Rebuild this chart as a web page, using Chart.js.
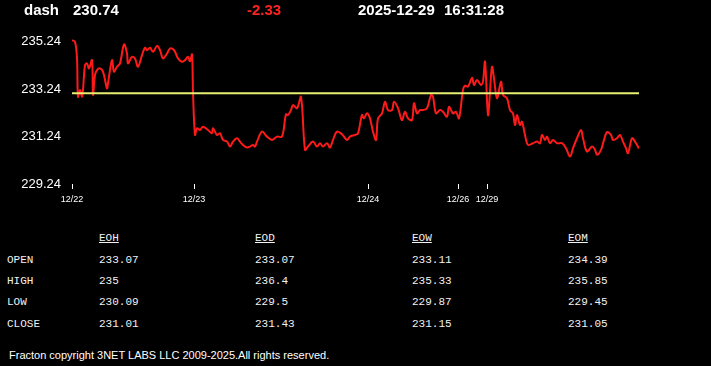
<!DOCTYPE html>
<html>
<head>
<meta charset="utf-8">
<script src="https://cdn.jsdelivr.net/npm/chart.js@4.4.0/dist/chart.umd.min.js"></script>
<style>
  html, body { margin: 0; padding: 0; background: #000; }
  body { width: 711px; height: 366px; position: relative; overflow: hidden; font-family: "Liberation Sans", Arial, sans-serif; color: #fff; }
  #wrap { position: absolute; left: 0; top: 0; width: 711px; height: 214px; }
  .hdr { position: absolute; top: 1px; font-weight: bold; font-size: 15px; line-height: 18px; white-space: pre; }
  .cell { position: absolute; font-family: "Liberation Mono", "DejaVu Sans Mono", monospace; font-size: 11px; line-height: 13px; color: #f2f2f2; white-space: pre; }
  .colhead { text-decoration: underline; }
  #footer { position: absolute; left: 9px; top: 348px; font-size: 11px; line-height: 14px; color: #fff; white-space: pre; }
</style>
</head>
<body>
<div id="wrap"><canvas id="chart" width="711" height="214"></canvas></div>
<div class="hdr" style="left:24px">dash</div>
<div class="hdr" id="last" style="left:73px"></div>
<div class="hdr" id="chg" style="left:247px;color:#ff2222"></div>
<div class="hdr" style="left:358px">2025-12-29</div>
<div class="hdr" style="left:444px">16:31:28</div>
<div id="table"></div>
<div id="footer">Fracton copyright 3NET LABS LLC 2009-2025.All rights reserved.</div>
<script>
// header values
const symbol = "dash";
const lastPrice = 230.74;
const change = -2.33;
const openPrice = 233.07;

// intraday series: bar index and price
const barIndex = [
  0, 3, 5, 6, 8, 10, 11, 13, 15, 17, 20, 21, 23, 25, 28, 31, 35, 36, 40, 42,
  45, 48, 52, 55, 56, 60, 63, 66, 70, 73, 75, 78, 81, 85, 88, 91, 95, 98, 101, 103,
  106, 110, 113, 116, 118, 120, 121, 123, 125, 128, 131, 136, 140, 141, 145, 148, 151, 155, 158, 161,
  165, 168, 171, 175, 178, 181, 183, 185, 190, 195, 200, 205, 210, 214, 216, 219, 221, 225, 229, 233,
  236, 241, 245, 248, 251, 255, 258, 261, 265, 270, 275, 278, 283, 286, 290, 292, 295, 298, 301, 304,
  306, 310, 313, 316, 320, 322, 326, 330, 333, 336, 340, 342, 345, 348, 351, 355, 359, 361, 364, 368,
  371, 375, 377, 381, 384, 387, 391, 393, 396, 400, 402, 405, 409, 411, 413, 416, 418, 420, 422, 425,
  429, 431, 435, 438, 441, 443, 445, 448, 450, 453, 456, 461, 465, 468, 470, 473, 475, 478, 481, 485,
  490, 494, 498, 501, 505, 509, 511, 515, 520, 523, 525, 529, 532, 535, 539, 541, 545, 548, 551, 554,
  556, 560, 563, 567
];
const prices = [
  235.31, 235.24, 234.54, 232.92, 233.21, 232.92, 233.21, 234.26, 234.33, 234.12, 234.47, 233.00, 233.84, 234.05, 234.12, 233.98, 233.28, 233.49, 234.47, 233.98,
  234.19, 234.33, 235.13, 234.75, 234.33, 234.61, 234.54, 234.19, 234.68, 234.99, 234.89, 234.99, 234.82, 235.07, 234.89, 234.54, 234.75, 234.96, 234.93, 234.82,
  234.54, 234.40, 234.47, 234.61, 234.42, 234.71, 233.13, 231.31, 231.59, 231.52, 231.66, 231.52, 231.38, 231.59, 231.31, 231.38, 231.10, 231.03, 230.82, 231.03,
  231.17, 231.03, 230.89, 230.78, 230.82, 230.89, 230.82, 231.03, 231.45, 231.24, 231.10, 231.24, 231.24, 232.18, 232.15, 232.36, 232.57, 232.44, 232.92, 230.68,
  230.82, 231.03, 230.82, 230.96, 230.82, 230.96, 230.78, 231.10, 231.45, 231.34, 231.10, 231.24, 231.31, 231.38, 232.15, 232.01, 232.23, 232.01, 231.45, 231.10,
  232.01, 232.22, 232.71, 232.36, 232.36, 232.71, 232.44, 231.94, 232.29, 232.01, 231.94, 232.65, 232.22, 232.36, 232.36, 232.44, 233.00, 232.92, 232.22, 232.36,
  232.29, 232.08, 232.50, 232.22, 232.29, 232.01, 233.21, 233.39, 233.35, 233.72, 233.42, 233.63, 233.42, 233.56, 234.40, 232.15, 233.13, 234.19, 233.70, 232.86,
  233.56, 233.00, 232.86, 232.36, 232.22, 231.73, 232.15, 231.73, 231.87, 231.31, 230.89, 230.96, 231.03, 230.96, 231.31, 231.10, 231.24, 230.96, 231.10, 230.96,
  230.96, 230.75, 230.40, 230.75, 231.17, 231.52, 231.17, 230.61, 230.82, 230.68, 230.47, 230.68, 231.10, 231.43, 231.31, 231.10, 231.17, 231.31, 231.03, 230.75,
  230.54, 231.17, 231.03, 230.74
];

// axis ticks
const dayLabels = ["12/22", "12/23", "12/24", "12/26", "12/29"];
const dayStarts = [0, 122, 296, 386, 415];
const priceTicks = [229.24, 231.24, 233.24, 235.24];

// summary table
const rowLabels = ["OPEN", "HIGH", "LOW", "CLOSE"];
const colLabels = ["EOH", "EOD", "EOW", "EOM"];
const eoh = [233.07, 235, 230.09, 231.01];
const eod = [233.07, 236.4, 229.5, 231.43];
const eow = [233.11, 235.33, 229.87, 231.15];
const eom = [234.39, 235.85, 229.45, 231.05];

document.getElementById("last").textContent = lastPrice.toFixed(2);
document.getElementById("chg").textContent = change.toFixed(2);

// build table
const table = document.getElementById("table");
const colX = [99, 255, 412, 568];
const rowY = [260, 281, 302, 324];
function addCell(text, x, yc, cls) {
  const d = document.createElement("div");
  d.className = "cell" + (cls ? " " + cls : "");
  d.style.left = x + "px";
  d.style.top = (yc - 6.5) + "px";
  d.textContent = text;
  table.appendChild(d);
}
const cols = [eoh, eod, eow, eom];
colLabels.forEach((c, i) => addCell(c, colX[i], 238, "colhead"));
rowLabels.forEach((r, j) => {
  addCell(r, 7, rowY[j]);
  cols.forEach((col, i) => addCell(String(col[j]), colX[i], rowY[j]));
});

const series = barIndex.map((t, i) => ({ x: t, y: prices[i] }));
const lastBar = barIndex[barIndex.length - 1];

new Chart(document.getElementById("chart"), {
  type: "line",
  data: {
    datasets: [
      {
        data: [{ x: 0, y: openPrice }, { x: lastBar, y: openPrice }],
        borderColor: "#e6ef72",
        borderWidth: 2,
        pointRadius: 0,
      },
      {
        data: series,
        borderColor: "#ff1a1a",
        borderWidth: 2,
        pointRadius: 0,
        tension: 0.35,
      },
    ],
  },
  options: {
    responsive: false,
    animation: false,
    layout: { padding: { left: 0, right: 72, top: 30, bottom: 0 } },
    plugins: { legend: { display: false }, tooltip: { enabled: false } },
    scales: {
      x: {
        type: "linear",
        min: 0,
        max: lastBar,
        grid: { display: true, drawOnChartArea: false, drawTicks: true, tickLength: 5, color: "#fff" },
        border: { display: false },
        afterBuildTicks: (s) => { s.ticks = dayStarts.map((v) => ({ value: v })); },
        afterFit: (s) => { s.height = 30; },
        ticks: {
          autoSkip: false,
          maxRotation: 0,
          padding: 5,
          color: "#fff",
          font: { family: "Liberation Sans", size: 9 },
          callback: (v) => dayLabels[dayStarts.indexOf(v)],
        },
      },
      y: {
        min: 229.24,
        max: 235.74,
        grid: { display: false, drawTicks: false },
        border: { display: false },
        afterBuildTicks: (s) => { s.ticks = priceTicks.map((v) => ({ value: v })); },
        afterFit: (s) => { s.width = 72; },
        ticks: {
          padding: 11,
          color: "#fff",
          font: { family: "Liberation Sans", size: 13 },
          callback: (v) => Number(v).toFixed(2),
        },
      },
    },
  },
});
</script>
</body>
</html>
